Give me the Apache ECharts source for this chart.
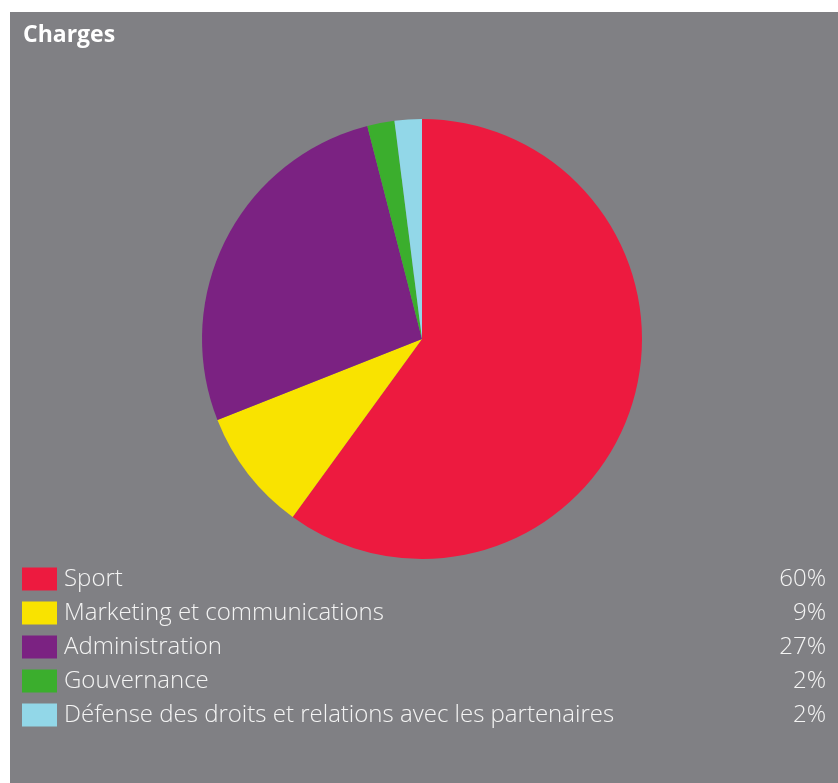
<!DOCTYPE html>
<html><head><meta charset="utf-8">
<script src="https://cdn.jsdelivr.net/npm/echarts@6/dist/echarts.min.js"></script>
<style>html,body{margin:0;padding:0;background:#fff}#c{width:838px;height:783px}</style>
</head><body><div id="c"></div>
<script>
const title = 'Charges';
const categories = ['Sport', 'Marketing et communications', 'Administration', 'Gouvernance', 'Défense des droits et relations avec les partenaires'];
const values = [60, 9, 27, 2, 2];
const colors = ['#ED1A3F', '#F9E300', '#7B2282', '#3BAE2D', '#92D7E8'];

const chart = echarts.init(document.getElementById('c'));
const pctMap = {};
categories.forEach((c, i) => pctMap[c] = values[i] + '%');
const legFont = { fontSize: 24, fontWeight: 300, fontFamily: 'Open Sans', color: '#f4f4f4', lineHeight: 23 };
chart.setOption({
  backgroundColor: '#ffffff',
  animation: false,
  graphic: [{
    type: 'rect', z: -10, silent: true,
    shape: { x: 10, y: 12, width: 828, height: 771 },
    style: { fill: '#808084' }
  }],
  title: {
    text: title, left: 23, top: 24, padding: 0,
    textStyle: { color: '#ffffff', fontSize: 23, fontWeight: 'bold', fontFamily: 'Open Sans' }
  },
  legend: {
    orient: 'vertical', left: 22, top: 567, padding: 0,
    itemWidth: 35, itemHeight: 23, itemGap: 10,
    icon: 'rect',
    selectedMode: false,
    data: categories,
    formatter: name => '{n|' + name + '}{p|' + pctMap[name] + '}',
    textStyle: {
      color: '#ffffff', padding: [0, 0, 0, 2],
      rich: {
        n: Object.assign({ width: 700 }, legFont),
        p: Object.assign({ width: 62, align: 'right' }, legFont)
      }
    }
  },
  series: [{
    type: 'pie',
    center: [422, 339], radius: 220,
    startAngle: 90, clockwise: true,
    label: { show: false }, labelLine: { show: false },
    emphasis: { disabled: true },
    itemStyle: { borderWidth: 0 },
    data: categories.map((c, i) => ({ name: c, value: values[i], itemStyle: { color: colors[i] } }))
  }]
});
</script></body></html>
